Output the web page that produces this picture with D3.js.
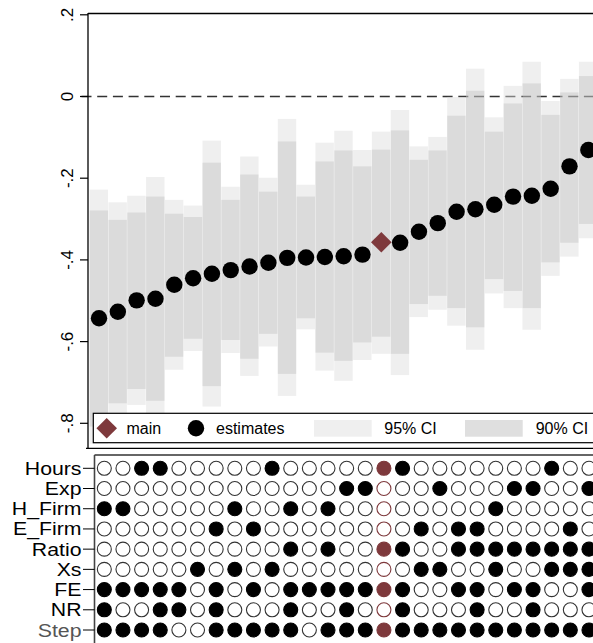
<!DOCTYPE html>
<html>
<head>
<meta charset="utf-8">
<script src="https://cdn.jsdelivr.net/npm/d3@7"></script>
<style>
  body { margin: 0; background: #fff; }
  text { font-family: "Liberation Sans", Arial, Helvetica, sans-serif; }
</style>
</head>
<body>
<svg id="chart" width="593" height="643"></svg>
<script>
// specification estimates, sorted (main spec sits at rank 15)
var est  = [-0.543, -0.527, -0.499, -0.495, -0.461, -0.445, -0.434, -0.425, -0.416, -0.407,
            -0.395, -0.394, -0.393, -0.391, -0.387, -0.357, -0.358, -0.331, -0.310, -0.282,
            -0.276, -0.265, -0.245, -0.243, -0.226, -0.171, -0.131];
var hi95 = [-0.228, -0.259, -0.243, -0.197, -0.253, -0.267, -0.108, -0.221, -0.147, -0.199,
            -0.055, -0.216, -0.113, -0.084, -0.131, -0.086, -0.033, -0.122, -0.099, -0.001,
             0.068, -0.051,  0.026,  0.085, -0.011,  0.043,  0.085];
var hi90 = [-0.279, -0.302, -0.284, -0.245, -0.287, -0.295, -0.162, -0.253, -0.191, -0.233,
            -0.110, -0.245, -0.159, -0.132, -0.171, -0.130, -0.083, -0.155, -0.132, -0.047,
             0.014, -0.086, -0.017,  0.032, -0.045,  0.010,  0.050];
var lo90 = [-0.808, -0.751, -0.716, -0.745, -0.637, -0.593, -0.709, -0.596, -0.642, -0.581,
            -0.679, -0.543, -0.627, -0.647, -0.602, -0.588, -0.630, -0.508, -0.488, -0.518,
            -0.565, -0.447, -0.476, -0.518, -0.406, -0.358, -0.312];
var lo95 = [-0.850, -0.805, -0.755, -0.790, -0.669, -0.623, -0.759, -0.628, -0.684, -0.612,
            -0.733, -0.570, -0.671, -0.696, -0.645, -0.630, -0.682, -0.540, -0.522, -0.561,
            -0.620, -0.482, -0.518, -0.571, -0.439, -0.392, -0.347];
var mainIdx = 15;

var yTicks = [0.2, 0, -0.2, -0.4, -0.6, -0.8];
var yTickLabels = [".2", "0", "-.2", "-.4", "-.6", "-.8"];

// which specifications switch each choice on
var rowNames = ["Hours", "Exp", "H_Firm", "E_Firm", "Ratio", "Xs", "FE", "NR", "Step"];
var hoursOn = [2, 3, 9, 15, 16, 24];
var expOn   = [13, 14, 18, 22, 23, 26];
var hFirmOn = [0, 1, 7, 10, 12, 21];
var eFirmOn = [6, 8, 17, 19, 20, 25];
var ratioOn = [10, 12, 15, 16, 19, 20, 21, 22, 23, 24, 25, 26];
var xsOn    = [5, 7, 9, 17, 18, 21, 24, 25, 26];
var feOn    = [0, 1, 2, 3, 4, 6, 8, 10, 11, 12, 13, 14, 15, 16, 19, 20, 22, 23, 26];
var nrOn    = [0, 3, 4, 6, 10, 13, 16, 20, 23];
var stepOn  = [0, 1, 2, 3, 6, 7, 8, 9, 10, 12, 13, 14, 15, 16, 17, 18, 19, 20, 21, 22, 23, 24, 25, 26];
var rowOn = [hoursOn, expOn, hFirmOn, eFirmOn, ratioOn, xsOn, feOn, nrOn, stepOn];

var maroon = "#7e393c";
var svg = d3.select("#chart");
var n = est.length;
var idx = d3.range(n);

// ---------- top panel ----------
var plotTop = 13.5, plotBot = 448.3, axisX = 88;
var x = d3.scaleBand().domain(idx).range([89.6, 89.6 + n * 18.82]).padding(0);
var y = d3.scaleLinear().domain([-0.8, 0.2]).range([423.3, 14.8]);

svg.append("defs").append("clipPath").attr("id", "plotclip")
  .append("rect").attr("x", axisX).attr("y", plotTop).attr("width", 600).attr("height", plotBot - plotTop);

// reference line at zero (under the bands)
svg.append("line")
  .attr("x1", 81.5).attr("x2", 600)
  .attr("y1", y(0)).attr("y2", y(0))
  .attr("stroke", "#333").attr("stroke-width", 1.4)
  .attr("stroke-dasharray", "10,5.7");

var bands = svg.append("g").attr("clip-path", "url(#plotclip)");
bands.selectAll("rect.ci95").data(idx).enter().append("rect")
  .attr("class", "ci95")
  .attr("x", function(i) { return x(i); })
  .attr("width", x.bandwidth() - 0.4)
  .attr("y", function(i) { return y(hi95[i]); })
  .attr("height", function(i) { return y(lo95[i]) - y(hi95[i]); })
  .attr("fill", "rgb(220,220,220)").attr("fill-opacity", 0.45);
bands.selectAll("rect.ci90").data(idx).enter().append("rect")
  .attr("class", "ci90")
  .attr("x", function(i) { return x(i); })
  .attr("width", x.bandwidth() - 0.4)
  .attr("y", function(i) { return y(hi90[i]); })
  .attr("height", function(i) { return y(lo90[i]) - y(hi90[i]); })
  .attr("fill", "rgb(152,152,152)").attr("fill-opacity", 0.22);

// estimates
var cx = function(i) { return x(i) + x.bandwidth() / 2; };
svg.selectAll("circle.est").data(idx.filter(function(i) { return i !== mainIdx; })).enter()
  .append("circle").attr("class", "est")
  .attr("cx", cx).attr("cy", function(i) { return y(est[i]); })
  .attr("r", 8.2).attr("fill", "#000");
var diamond = d3.symbol().type(d3.symbolDiamond2).size(270);
svg.append("path")
  .attr("d", diamond())
  .attr("transform", "translate(" + cx(mainIdx) + "," + y(est[mainIdx]) + ")")
  .attr("fill", maroon);

// y axis
var yAxis = svg.append("g");
yAxis.selectAll("line").data(yTicks).enter().append("line")
  .attr("x1", 80).attr("x2", axisX)
  .attr("y1", function(d) { return y(d); }).attr("y2", function(d) { return y(d); })
  .attr("stroke", "#000").attr("stroke-width", 1.2);
yAxis.selectAll("text").data(yTicks).enter().append("text")
  .attr("transform", function(d) { return "translate(72.5," + y(d) + ") rotate(-90)"; })
  .attr("text-anchor", "middle")
  .attr("font-size", 17)
  .text(function(d, i) { return yTickLabels[i]; });

// frame
svg.append("line").attr("x1", axisX).attr("x2", axisX).attr("y1", plotTop - 0.6).attr("y2", plotBot + 0.6)
  .attr("stroke", "#000").attr("stroke-width", 1.3);
svg.append("line").attr("x1", axisX).attr("x2", 600).attr("y1", plotTop).attr("y2", plotTop)
  .attr("stroke", "#000").attr("stroke-width", 1.3);
svg.append("line").attr("x1", 86).attr("x2", 600).attr("y1", plotBot).attr("y2", plotBot)
  .attr("stroke", "#000").attr("stroke-width", 1.3);

// legend
var lg = svg.append("g");
lg.append("rect").attr("x", 93.3).attr("y", 413.3).attr("width", 530).attr("height", 29.4)
  .attr("fill", "#fff").attr("stroke", "#000").attr("stroke-width", 1.2);
lg.append("path").attr("d", diamond())
  .attr("transform", "translate(106.7,428.3)").attr("fill", maroon);
lg.append("text").attr("x", 126.5).attr("y", 434).attr("font-size", 16).text("main");
lg.append("circle").attr("cx", 196).attr("cy", 428.3).attr("r", 8.2).attr("fill", "#000");
lg.append("text").attr("x", 216).attr("y", 434).attr("font-size", 16).text("estimates");
lg.append("rect").attr("x", 314).attr("y", 420).attr("width", 57.7).attr("height", 16.7).attr("fill", "#efefef");
lg.append("text").attr("x", 384.3).attr("y", 434).attr("font-size", 16).text("95% CI");
lg.append("rect").attr("x", 465).attr("y", 420).attr("width", 57.7).attr("height", 16.7).attr("fill", "#dfdfdf");
lg.append("text").attr("x", 535.7).attr("y", 434).attr("font-size", 16).text("90% CI");

// ---------- bottom panel: specification matrix ----------
var xb = d3.scaleBand().domain(idx).range([95, 95 + n * 18.64]).padding(0);
var yb = d3.scalePoint().domain(rowNames).range([468.3, 630]);
var panelTop = 455, panelLeft = 94.5;

svg.append("line").attr("x1", panelLeft).attr("x2", 600).attr("y1", panelTop).attr("y2", panelTop)
  .attr("stroke", "#666").attr("stroke-width", 1.8);
svg.append("line").attr("x1", panelLeft).attr("x2", panelLeft).attr("y1", panelTop).attr("y2", 643)
  .attr("stroke", "#444").attr("stroke-width", 1.6);

var cells = [];
rowNames.forEach(function(r, ri) {
  idx.forEach(function(i) {
    cells.push({ row: r, col: i, on: rowOn[ri].indexOf(i) >= 0 });
  });
});
svg.append("g").selectAll("circle").data(cells).enter().append("circle")
  .attr("cx", function(d) { return xb(d.col) + xb.bandwidth() / 2; })
  .attr("cy", function(d) { return yb(d.row); })
  .attr("r", 7)
  .attr("fill", function(d) { return d.on ? (d.col === mainIdx ? maroon : "#000") : "#fff"; })
  .attr("stroke", function(d) { return d.col === mainIdx ? maroon : (d.on ? "#000" : "#333"); })
  .attr("stroke-width", 1.1);

var rowAxis = svg.append("g");
rowAxis.selectAll("line").data(rowNames).enter().append("line")
  .attr("x1", 83).attr("x2", panelLeft)
  .attr("y1", function(d) { return yb(d); }).attr("y2", function(d) { return yb(d); })
  .attr("stroke", "#000").attr("stroke-width", 1);
// labels are drawn a little wide, as in the original export
rowAxis.selectAll("text").data(rowNames).enter().append("text")
  .attr("transform", function(d) { return "translate(81.5," + (yb(d) + 6.5) + ") scale(1.15,1)"; })
  .attr("text-anchor", "end")
  .attr("font-size", 18.5)
  .attr("fill", function(d) { return d === "Step" ? "#555" : "#000"; })
  .text(function(d) { return d; });
</script>
</body>
</html>
